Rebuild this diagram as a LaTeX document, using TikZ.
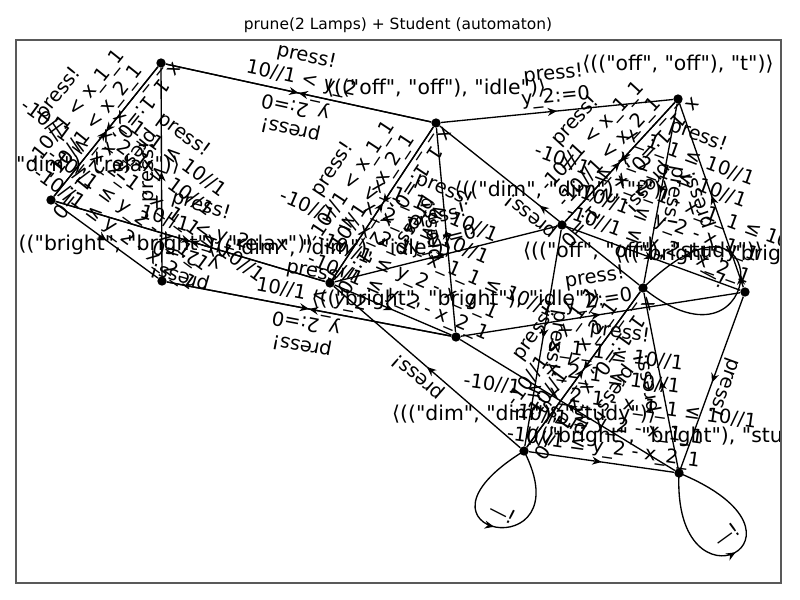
\documentclass[tikz,border=0pt]{standalone}
\usepackage{fontspec}
\newfontfamily\plotfont{DejaVu Sans}
\usetikzlibrary{arrows.meta,decorations.markings}

\newcommand{\upguard}{press!\\-10//1 < x\_1\_1\\-10//1 < x\_2\_1}
\newcommand{\downreset}{press!\\x\_1\_1:=0, x\_2\_1:=0}
\newcommand{\moveguard}{press!\\10//1 < y\_2}
\newcommand{\movereset}{press!\\y\_2:=0}
\newcommand{\zoneguard}{press!\\x\_1\_1 ≤ 10//1\\x\_2\_1 ≤ 10//1\\-10//1 ≤ x\_2\_1 - x\_1\_1 ≤ 10//1\\-10//1 ≤ y\_2 - x\_1\_1\\-10//1 ≤ y\_2 - x\_2\_1}
\newcommand{\selfmark}{—!}

\tikzset{
  statedot/.style={circle,fill=black,inner sep=0pt,minimum size=7pt},
  statename/.style={font=\plotfont\fontsize{15.3}{18}\selectfont,inner sep=0pt},
  edgetext/.style={font=\plotfont\fontsize{14.6}{17.5}\selectfont,align=center,sloped,allow upside down,above,inner sep=2.5pt},
  looptext/.style={font=\plotfont\fontsize{14.6}{17.5}\selectfont,inner sep=0pt},
  flow/.style={draw,line width=1pt,postaction={decorate},
    decoration={markings,mark=at position .5 with {\arrow{Stealth[length=7pt,width=6pt]}}}}
}

\begin{document}
\begin{tikzpicture}[x=.75pt,y=-.75pt]
  \useasboundingbox (0,0) rectangle (800,600);

  \node[font=\plotfont\fontsize{11.6}{14}\selectfont] (title) at (398,25) {prune(2 Lamps) + Student (automaton)};

  \begin{scope}
    \clip (16,40) rectangle (781,583);

    \begin{scope}[every node/.style={statedot}]
      \node (offrelax)    at (161,63)  {};
      \node (offidle)     at (436,123) {};
      \node (offt)        at (678,99)  {};
      \node (offstudy)    at (643,288) {};
      \node (dimrelax)    at (51,200)  {};
      \node (dimidle)     at (330,283) {};
      \node (dimt)        at (562,225) {};
      \node (dimstudy)    at (524,451) {};
      \node (brightrelax) at (162,281) {};
      \node (brightidle)  at (456,337) {};
      \node (brightt)     at (745,292) {};
      \node (brightstudy) at (679,473) {};
    \end{scope}

    % lamp moves
    \path (dimrelax)    edge[flow] node[edgetext] {\upguard}   (offrelax);
    \path (offrelax)    edge[flow] node[edgetext] {\downreset} (dimrelax);
    \path (dimrelax)    edge[flow] node[edgetext] {\zoneguard} (brightrelax);
    \path (brightrelax) edge[flow] node[edgetext] {press!}     (offrelax);
    \path (dimidle)     edge[flow] node[edgetext] {\upguard}   (offidle);
    \path (offidle)     edge[flow] node[edgetext] {\downreset} (dimidle);
    \path (dimidle)     edge[flow] node[edgetext] {\zoneguard} (brightidle);
    \path (brightidle)  edge[flow] node[edgetext] {press!}     (offidle);
    \path (dimt)        edge[flow] node[edgetext] {\upguard}   (offt);
    \path (offt)        edge[flow] node[edgetext] {\downreset} (dimt);
    \path (dimt)        edge[flow] node[edgetext] {\zoneguard} (brightt);
    \path (brightt)     edge[flow] node[edgetext] {press!}     (offt);
    \path (dimstudy)    edge[flow] node[edgetext] {\upguard}   (offstudy);
    \path (offstudy)    edge[flow] node[edgetext] {\downreset} (dimstudy);
    \path (dimstudy)    edge[flow] node[edgetext] {\zoneguard} (brightstudy);
    \path (brightstudy) edge[flow] node[edgetext] {press!}     (offstudy);

    % student moves
    \path (offrelax)    edge[flow] node[edgetext] {\moveguard} (offidle);
    \path (offidle)     edge[flow] node[edgetext] {\movereset} (offrelax);
    \path (dimrelax)    edge[flow] node[edgetext] {\moveguard} (dimidle);
    \path (dimidle)     edge[flow] node[edgetext] {\movereset} (dimrelax);
    \path (brightrelax) edge[flow] node[edgetext] {\moveguard} (brightidle);
    \path (brightidle)  edge[flow] node[edgetext] {\movereset} (brightrelax);
    \path (offidle)     edge[flow] node[edgetext] {\movereset} (offt);
    \path (dimidle)     edge[flow] node[edgetext] {\movereset} (dimt);
    \path (brightidle)  edge[flow] node[edgetext] {\movereset} (brightt);
    \path (offt)        edge[flow] node[edgetext] {press!}     (offstudy);
    \path (dimt)        edge[flow] node[edgetext] {press!}     (dimstudy);
    \path (brightt)     edge[flow] node[edgetext] {press!}     (brightstudy);
    \path (offstudy)    edge[flow] node[edgetext] {press!}     (offidle);
    \path (dimstudy)    edge[flow] node[edgetext] {press!}     (dimidle);
    \path (brightstudy) edge[flow] node[edgetext] {press!}     (brightidle);

    % self loops
    \path[flow] (offstudy.center) .. controls (770,390) and (777,157) .. (offstudy.center);
    \path[flow] (dimstudy.center) .. controls (388,535) and (585,570) .. (dimstudy.center);
    \path[flow] (brightstudy.center) .. controls (672,622) and (834,537) .. (brightstudy.center);
    \node[looptext,rotate=-28] (loopoff)    at (713,276) {\selfmark};
    \node[looptext,rotate=-27] (loopdim)    at (503,513) {\selfmark};
    \node[looptext,rotate=36]  (loopbright) at (727,535) {\selfmark};

    % state names
    \begin{scope}[every node/.style={statename}]
      \node (nameoffrelax)    at (161,27)  {⟨(("off", "off"), "relax")⟩};
      \node (nameoffidle)     at (436,88)  {⟨(("off", "off"), "idle")⟩};
      \node (nameofft)        at (678,64)  {⟨(("off", "off"), "t")⟩};
      \node (nameoffstudy)    at (643,252) {⟨(("off", "off"), "study")⟩};
      \node (namedimrelax)    at (51,165)  {⟨(("dim", "dim"), "relax")⟩};
      \node (namedimidle)     at (330,248) {⟨(("dim", "dim"), "idle")⟩};
      \node (namedimt)        at (562,190) {⟨(("dim", "dim"), "t")⟩};
      \node (namedimstudy)    at (524,415) {⟨(("dim", "dim"), "study")⟩};
      \node (namebrightrelax) at (162,245) {⟨(("bright", "bright"), "relax")⟩};
      \node (namebrightidle)  at (456,300) {⟨(("bright", "bright"), "idle")⟩};
      \node (namebrightt)     at (745,255) {⟨(("bright", "bright"), "t")⟩};
      \node (namebrightstudy) at (679,437) {⟨(("bright", "bright"), "study")⟩};
    \end{scope}
  \end{scope}

  \draw[black!65,line width=1.1pt] (16,40) rectangle (781,583);
\end{tikzpicture}
\end{document}
